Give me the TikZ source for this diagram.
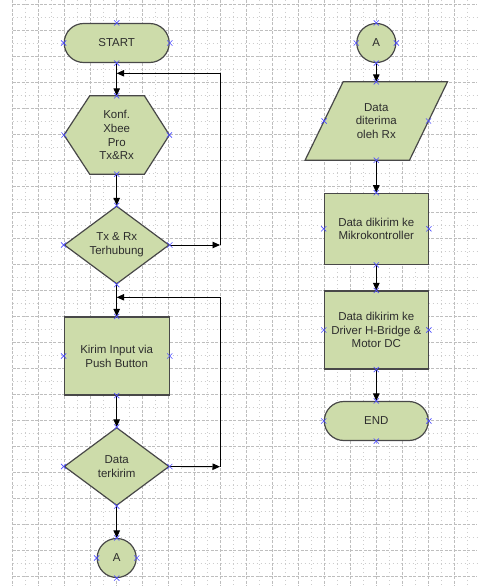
\documentclass[tikz,border=0pt]{standalone}
\usepackage{fontspec}
\setmainfont{Liberation Sans}
\usetikzlibrary{shapes.geometric,arrows.meta}
\definecolor{shapefill}{RGB}{205,220,170}
\definecolor{shapeline}{RGB}{72,72,72}
\definecolor{txt}{RGB}{45,45,45}
\definecolor{cpblue}{RGB}{80,80,255}
\definecolor{gridmaj}{RGB}{190,190,190}
\definecolor{gridmin}{RGB}{205,205,205}
\pgfdeclarelayer{gridlayer}
\pgfdeclarelayer{shapelayer}
\pgfsetlayers{gridlayer,shapelayer,main}
\begin{document}
\begin{tikzpicture}[x=1pt,y=-1pt,
  txtstyle/.style={font=\fontsize{11.5}{13.8}\selectfont, text=txt, align=center, inner sep=0pt},
  outline/.style={line width=1.2pt, draw=shapeline, fill=shapefill},
  process/.style={txtstyle, outline, rectangle, minimum width=104pt},
  terminal/.style={txtstyle, outline, rectangle, rounded corners=19.5pt, minimum width=105pt, minimum height=39pt},
  decision/.style={txtstyle, outline, diamond, aspect=1.346, minimum width=105pt, minimum height=78pt},
  connector/.style={txtstyle, outline, circle, minimum size=39pt},
  plain/.style={txtstyle, rectangle, minimum height=78pt},
  conn/.style={line width=0.9pt, black, -{Triangle[length=7.5pt,width=6.5pt]}},
  majline/.style={gridmaj, line width=0.7pt, dash pattern=on 3pt off 1.5pt},
  minline/.style={gridmin, line width=0.7pt, dash pattern=on 1pt off 3pt},
  cpx/.pic={\draw[cpblue, line width=0.6pt] (-2.6,-2.6) -- (2.6,2.6) (-2.6,2.6) -- (2.6,-2.6);}
]
\useasboundingbox (0,0) rectangle (477,586);
\begin{pgfonlayer}{gridlayer}
  \fill[white] (0,0) rectangle (477,586);
  \foreach \i in {0,...,17} {
    \draw[majline] ({12.7+26*\i},0) -- ({12.7+26*\i},586);
    \draw[minline] ({25.7+26*\i},0) -- ({25.7+26*\i},586);
  }
  \foreach \j in {0,...,22} {
    \draw[majline] (12.7,{4.7+26*\j}) -- (477,{4.7+26*\j});
  }
  \foreach \j in {0,...,21} {
    \draw[minline] (12.7,{17.7+26*\j}) -- (477,{17.7+26*\j});
  }
\end{pgfonlayer}

% left column
\node[terminal] (start) at (116.7,43) {START};
\node[plain, minimum width=105pt] (hex) at (116.7,135) {Konf.\\Xbee\\Pro\\Tx\&Rx};
\node[decision] (dia1) at (116.7,245) {Tx \& Rx\\Terhubung};
\node[process, minimum width=105pt, minimum height=78pt] (rect1) at (116.7,356) {Kirim Input via\\Push Button};
\node[decision] (dia2) at (116.7,466.5) {Data\\terkirim};
\node[connector] (ca1) at (116.7,558) {A};

% right column
\node[connector] (ca2) at (376.3,43) {A};
\node[plain, minimum width=104pt] (para) at (376.3,121) {Data\\diterima\\oleh Rx};
\node[process, minimum height=71pt] (rect2) at (376.3,228.8) {Data dikirim ke\\Mikrokontroller};
\node[process, minimum height=78pt] (rect3) at (376.3,330) {Data dikirim ke\\Driver H-Bridge \&\\Motor DC};
\node[terminal, minimum width=104pt] (end) at (376.3,421) {END};

\begin{pgfonlayer}{shapelayer}
  \draw[outline] (hex.west) -- ([xshift=25.7pt]hex.north west) -- ([xshift=-25pt]hex.north east)
     -- (hex.east) -- ([xshift=-25pt]hex.south east) -- ([xshift=25.7pt]hex.south west) -- cycle;
  \draw[outline] ([xshift=-19pt]para.south west) -- ([xshift=19pt]para.north west)
     -- ([xshift=19pt]para.north east) -- ([xshift=-19pt]para.south east) -- cycle;
\end{pgfonlayer}

% loop coordinates
\coordinate (r1) at (220,245);
\coordinate (j1) at (116.7,73.3);
\coordinate (r2) at (220,466.7);
\coordinate (j2) at (116.7,297.3);

% connectors
\draw[conn] (start.south) -- (hex.north);
\draw[conn] (hex.south) -- (dia1.north);
\draw[conn] (dia1.south) -- (rect1.north);
\draw[conn] (rect1.south) -- (dia2.north);
\draw[conn] (dia2.south) -- (ca1.north);
\draw[conn] (dia1.east) -- (r1);
\draw[conn] (r1) |- (j1);
\draw[conn] (dia2.east) -- (r2);
\draw[conn] (r2) |- (j2);
\draw[conn] (ca2.south) -- (para.north);
\draw[conn] (para.south) -- (rect2.north);
\draw[conn] (rect2.south) -- (rect3.north);
\draw[conn] (rect3.south) -- (end.north);

% connection point markers
\foreach \n in {start,hex,dia1,rect1,dia2,ca1,ca2,para,rect2,rect3,end} {
  \foreach \a in {north,south,east,west} {
    \pic at (\n.\a) {cpx};
  }
}
\end{tikzpicture}
\end{document}
